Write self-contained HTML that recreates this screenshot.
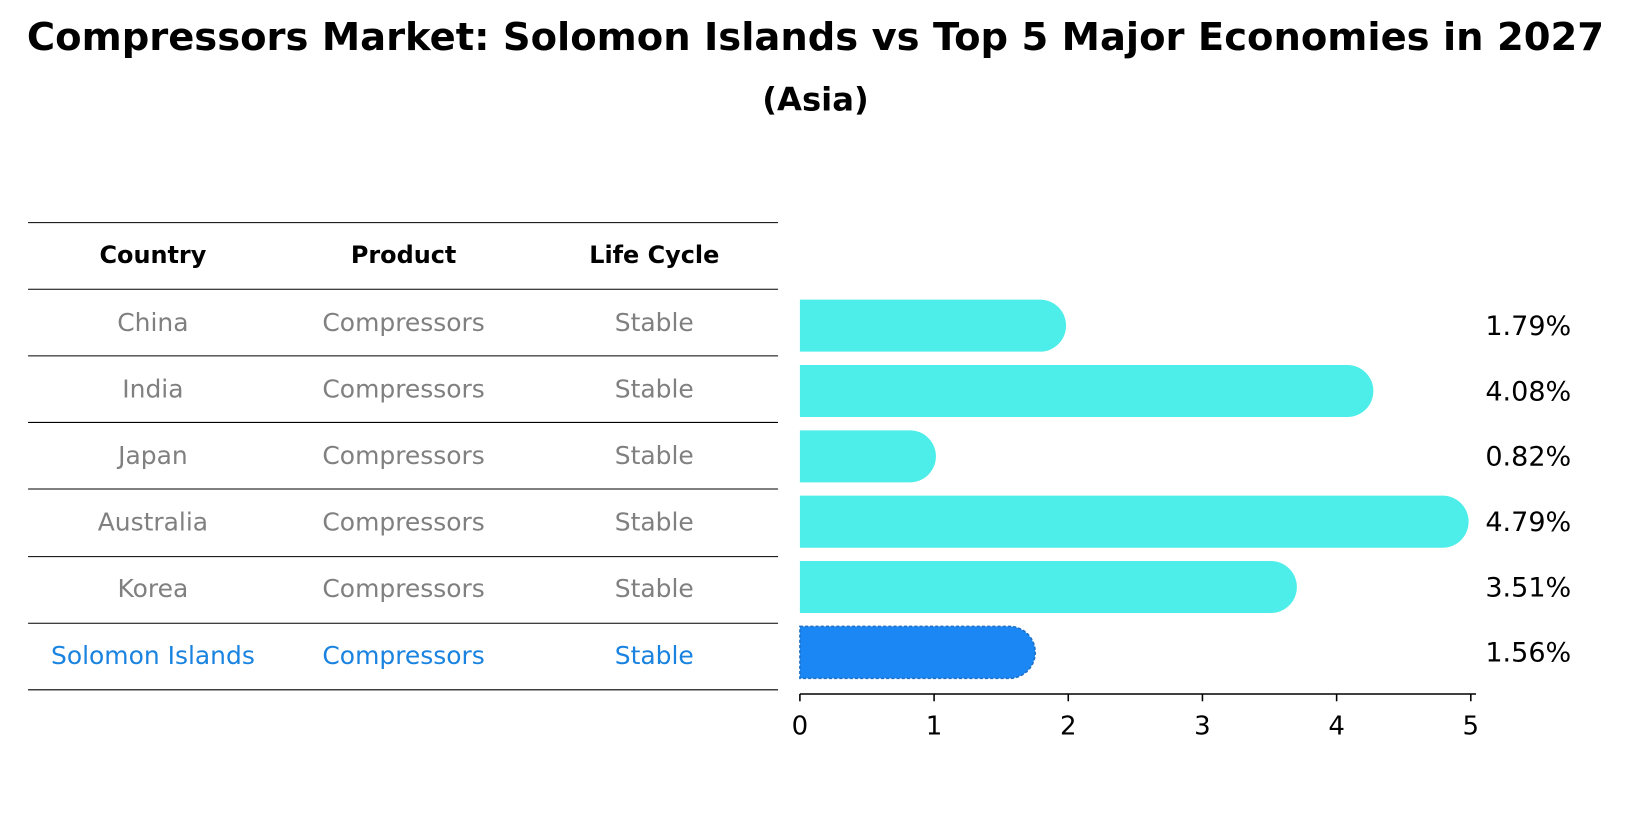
<!DOCTYPE html>
<html><head><meta charset="utf-8"><style>
body{margin:0;background:#fff}
svg text{font-family:"DejaVu Sans","Liberation Sans",sans-serif}
</style></head><body>
<svg id="c" width="1631" height="823" viewBox="0 0 1568 791" preserveAspectRatio="none">
<text x="784" y="48" text-anchor="middle" font-size="37" font-weight="bold">Compressors Market: Solomon Islands vs Top 5 Major Economies in 2027</text>
<text x="784" y="106" text-anchor="middle" font-size="31" font-weight="bold">(Asia)</text>
<g id="tbl"></g>
<g id="bars"></g>
<g id="axis"></g>
</svg>
<script>
const countries=["China","India","Japan","Australia","Korea","Solomon Islands"];
const values=[1.79,4.08,0.82,4.79,3.51,1.56];
const labels=["1.79%","4.08%","0.82%","4.79%","3.51%","1.56%"];
const ticks=[0,1,2,3,4,5];
const NS="http://www.w3.org/2000/svg";
function mk(tag,attrs,parent,txt){const e=document.createElementNS(NS,tag);for(const k in attrs)e.setAttribute(k,attrs[k]);if(txt!==undefined)e.textContent=txt;parent.appendChild(e);return e;}
const x0=769,px=129;
const xs=v=>x0+v*px;
const rowY=i=>313+i*62.8;
const tbl=document.getElementById('tbl'),bars=document.getElementById('bars'),axis=document.getElementById('axis');
const lineYs=[214,278,342,406,470,535,599,663];
lineYs.forEach(y=>{const l=mk('line',{x1:27,x2:748,y1:y,y2:y,stroke:'#000','stroke-width':1},tbl);

});
const colX=[147,388,629];
["Country","Product","Life Cycle"].forEach((h,j)=>{const t=mk('text',{x:colX[j],y:253,'text-anchor':'middle','font-size':23,'font-weight':'bold'},tbl,h);

});
countries.forEach((c,i)=>{
 const y=310+i*64+8;
 const col=i===countries.length-1?'#1a83e0':'#808080';
 [c,"Compressors","Stable"].forEach((v,j)=>{const t=mk('text',{x:colX[j],y:y,'text-anchor':'middle','font-size':24,fill:col},tbl,v);
 
 });
 const cy=rowY(i),h=50,hl=i===countries.length-1;
 const w=xs(values[i])-x0;
 const p=mk('path',{d:`M${x0},${cy-h/2} H${x0+w} A${h/2},${h/2} 0 0 1 ${x0+w},${cy+h/2} H${x0} Z`,fill:hl?'#1a87f5':'#4dede9',stroke:hl?'#1f6fc4':'none','stroke-dasharray':hl?'3,2':'none','stroke-width':hl?1.5:0},bars);
 
 
 const t=mk('text',{x:1428,y:cy+9,'font-size':26},bars,labels[i]);
 
 
});
const al=mk('line',{x1:x0,x2:1419,y1:667,y2:667,stroke:'#000','stroke-width':1.5},axis);


ticks.forEach(v=>{const tk=mk('line',{x1:xs(v),x2:xs(v),y1:667,y2:674,stroke:'#000','stroke-width':1.5},axis);


const t=mk('text',{x:xs(v),y:706,'text-anchor':'middle','font-size':25},axis,String(v));

});
</script>
</body></html>
